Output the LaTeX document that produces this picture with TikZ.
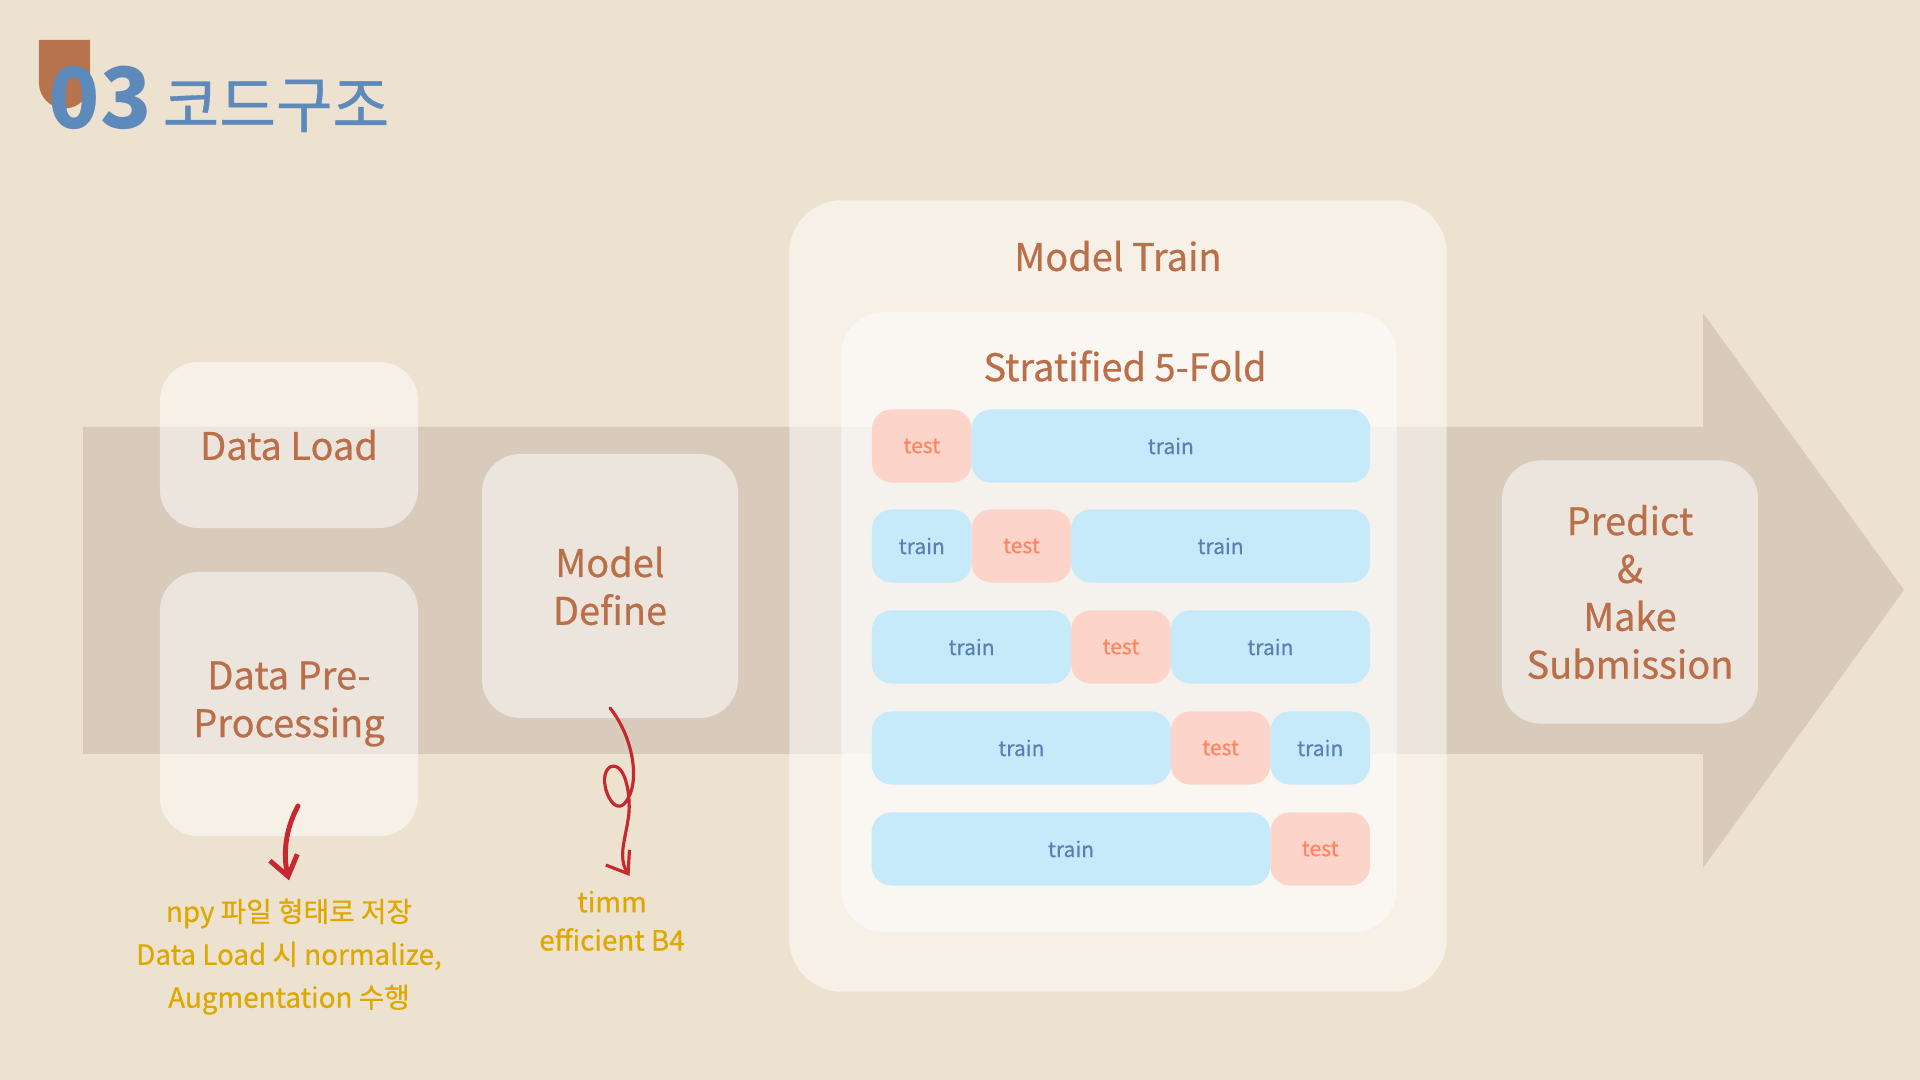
\documentclass[tikz,border=0pt]{standalone}
\usepackage{fontspec}
\setmainfont{Noto Sans CJK KR}
\newfontfamily\medfont{Noto Sans CJK KR}[FakeBold=0.6]
\usepackage{tikz}
\usetikzlibrary{arrows.meta}

\definecolor{bgbeige}{RGB}{237,226,207}
\definecolor{bandgray}{RGB}{216,203,187}
\definecolor{brownish}{RGB}{186,111,73}
\definecolor{tabbrown}{RGB}{183,115,78}
\definecolor{titleblue}{RGB}{94,137,187}
\definecolor{noteyellow}{RGB}{222,168,0}
\definecolor{penred}{RGB}{198,40,46}
\definecolor{testfill}{RGB}{252,212,201}
\definecolor{testtext}{RGB}{255,133,98}
\definecolor{trainfill}{RGB}{198,234,250}
\definecolor{traintext}{RGB}{90,127,180}

\begin{document}
\begin{tikzpicture}[x=0.01cm, y=-0.01cm,
    box/.style={fill=white, fill opacity=0.5, text opacity=1, rounded corners=11pt,
      inner sep=0pt, align=center, text=brownish, font=\medfont\fontsize{10.8}{13.6}\selectfont},
    cell/.style={rounded corners=5.5pt, inner sep=0pt, minimum height=0.73cm,
      font=\medfont\fontsize{6}{8}\selectfont},
    testcell/.style={cell, fill=testfill, text=testtext},
    traincell/.style={cell, fill=trainfill, text=traintext},
    note/.style={text=noteyellow, align=center, inner sep=0pt, font=\medfont\fontsize{7.9}{12.2}\selectfont},
    pen/.style={draw=penred, line cap=round, -{Straight Barb[length=5.5pt,width=8pt]}}]
  \useasboundingbox (0,0) rectangle (1920,1080);
  \fill[bgbeige] (0,0) rectangle (1920,1080);

  % big arrow behind the steps
  \fill[bandgray] (83,427) -- (1703,427) -- (1703,313) -- (1904,590)
    -- (1703,868) -- (1703,754) -- (83,754) -- cycle;

  % title
  \fill[tabbrown] (39,40) -- (90,40) -- (90,83)
    arc[start angle=0, end angle=-180, radius=0.255cm] -- cycle;
  \node[text=titleblue, font=\fontsize{24}{28}\selectfont\bfseries] (num) at (100,98) {03};
  \node[text=titleblue, anchor=west, inner sep=0pt, font=\medfont\fontsize{17.5}{20}\selectfont] (title) at (162,106) {코드구조};

  % steps
  \node[box, minimum width=2.58cm, minimum height=1.66cm] (load) at (289,445) {Data Load};
  \node[box, minimum width=2.58cm, minimum height=2.64cm] (prep) at (289,704) {Data Pre-\\Processing};
  \node[box, minimum width=2.56cm, minimum height=2.64cm] (define) at (610,586) {Model\\Define};
  \node[box, minimum width=6.57cm, minimum height=7.91cm, rounded corners=15pt] (train) at (1118,596) {};
  \node[box, minimum width=5.55cm, minimum height=6.19cm, rounded corners=12pt] (kfold) at (1119,622) {};
  \node[box, minimum width=2.56cm, minimum height=2.63cm] (predict) at (1630,592) {Predict\\\&\\Make\\Submission};
  \node[text=brownish, font=\medfont\fontsize{10.8}{13.6}\selectfont] (traintitle) at (1118,256) {Model Train};
  \node[text=brownish, font=\medfont\fontsize{10.8}{13.6}\selectfont] (kfoldtitle) at (1125,366) {Stratified 5-Fold};

  % folds
  \node[testcell, minimum width=0.996cm] (t1) at (921.8,446) {test};
  \node[traincell, minimum width=3.984cm] (r1b) at (1170.8,446) {train};

  \node[traincell, minimum width=0.996cm] (r2a) at (921.8,546) {train};
  \node[testcell, minimum width=0.996cm] (t2) at (1021.4,546) {test};
  \node[traincell, minimum width=2.988cm] (r2b) at (1220.6,546) {train};

  \node[traincell, minimum width=1.992cm] (r3a) at (971.6,647) {train};
  \node[testcell, minimum width=0.996cm] (t3) at (1121,647) {test};
  \node[traincell, minimum width=1.992cm] (r3b) at (1270.4,647) {train};

  \node[traincell, minimum width=2.988cm] (r4a) at (1021.4,748) {train};
  \node[testcell, minimum width=0.996cm] (t4) at (1220.6,748) {test};
  \node[traincell, minimum width=0.996cm] (r4b) at (1320.2,748) {train};

  \node[traincell, minimum width=3.984cm] (r5a) at (1071,849) {train};
  \node[testcell, minimum width=0.996cm] (t5) at (1320.2,849) {test};

  % notes
  \node[note, anchor=north] (npy) at (289,898) {npy 파일 형태로 저장\\Data Load 시 normalize,\\Augmentation 수행};
  \node[note, anchor=north, font=\medfont\fontsize{7.9}{10.9}\selectfont] (timm) at (612,890) {timm\\efficient B4};

  \coordinate (s1) at (298,806);
  \coordinate (s2) at (610,708);
  \draw[pen, line width=1.4pt] (s1) .. controls (285,830) and (283,855) .. ([yshift=5pt]npy.north);
  \draw[pen, line width=0.9pt] (s2) .. controls (632,735) and (642,782) .. (625,803)
    .. controls (612,818) and (596,776) .. (610,767)
    .. controls (626,760) and (632,800) .. (628,820)
    .. controls (625,840) and (618,858) .. ([xshift=5pt,yshift=4pt]timm.north);
\end{tikzpicture}
\end{document}
